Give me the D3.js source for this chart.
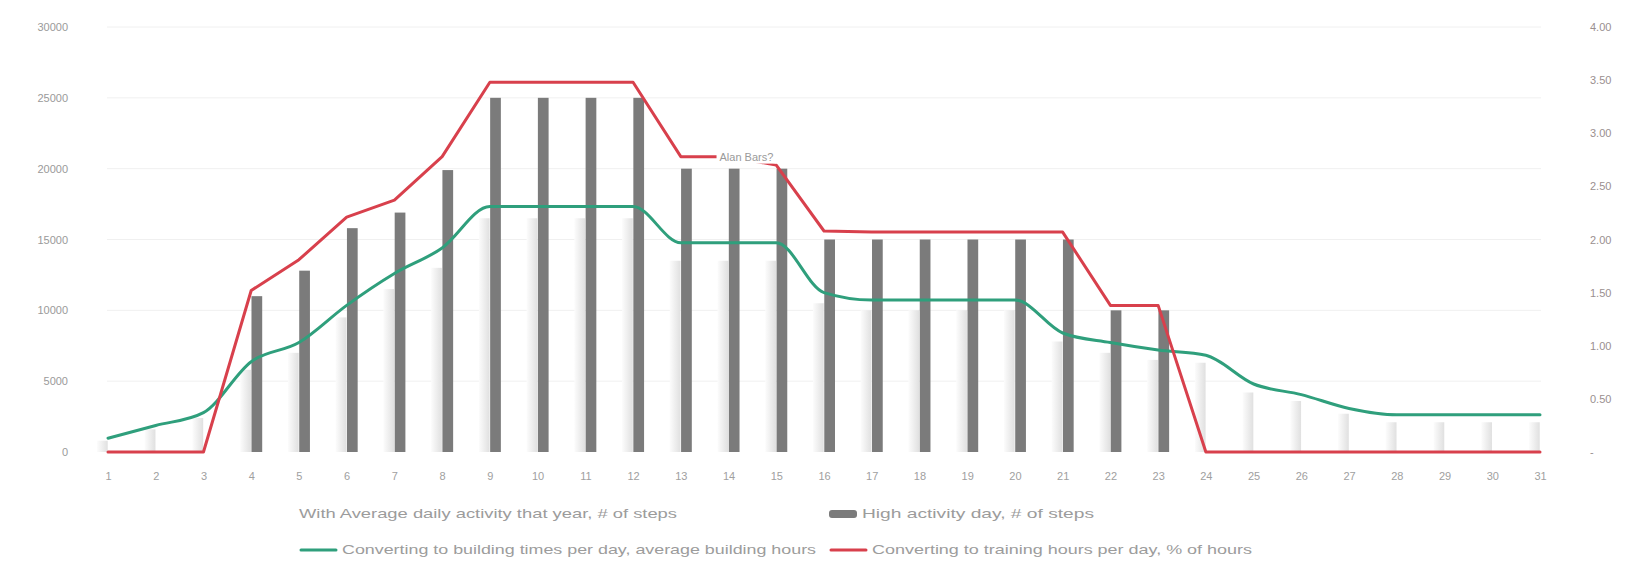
<!DOCTYPE html>
<html><head><meta charset="utf-8">
<script src="https://cdn.jsdelivr.net/npm/d3@7"></script>
<style>body{margin:0;background:#fff}svg{display:block}</style>
</head><body><svg id="c" width="1645" height="563"></svg>
<script>
const categories = [1,2,3,4,5,6,7,8,9,10,11,12,13,14,15,16,17,18,19,20,21,22,23,24,25,26,27,28,29,30,31];
const avgSteps  = [800,1600,2400,5800,7000,9500,11500,13000,16500,16500,16500,16500,13500,13500,13500,10500,10000,10000,10000,10000,7800,7000,6500,6300,4200,3600,2700,2100,2100,2100,2100];
const highSteps = [0,0,0,11000,12800,15800,16900,19900,25000,25000,25000,25000,20000,20000,20000,15000,15000,15000,15000,15000,15000,10000,10000,0,0,0,0,0,0,0,0];
const buildHours = [0.13,0.25,0.37,0.85,1.03,1.38,1.68,1.92,2.31,2.31,2.31,2.31,1.97,1.97,1.97,1.50,1.43,1.43,1.43,1.43,1.12,1.03,0.96,0.91,0.64,0.54,0.41,0.35,0.35,0.35,0.35];
const trainHours = [0,0,0,1.52,1.81,2.21,2.37,2.78,3.48,3.48,3.48,3.48,2.78,2.78,2.70,2.08,2.07,2.07,2.07,2.07,2.07,1.38,1.38,0,0,0,0,0,0,0,0];
const leftTicks = [0,5000,10000,15000,20000,25000,30000];
const rightTicks = [0,0.5,1,1.5,2,2.5,3,3.5,4];
const legendLabels = ["With Average daily activity that year, # of steps","High activity day, # of steps","Converting to building times per day, average building hours","Converting to training hours per day, % of hours"];
const noteText = "Alan Bars?";

const svg = d3.select("#c");
const font = "'Liberation Sans', Arial, sans-serif";
const x = d3.scalePoint().domain(categories).range([108,1540]);
const yL = d3.scaleLinear().domain([0,30000]).range([452,27]);
const yR = d3.scaleLinear().domain([0,4]).range([452,27]);
const sub = d3.scaleBand().domain(["avg","high"]).range([-11,11]).paddingInner(0.05);

const defs = svg.append("defs");
const g1 = defs.append("linearGradient").attr("id","lg").attr("x1","0").attr("x2","1").attr("y1","0").attr("y2","0");
g1.append("stop").attr("offset","0").attr("stop-color","#fcfcfc");
g1.append("stop").attr("offset","1").attr("stop-color","#e0e0e0");

// gridlines
svg.append("g").selectAll("line").data(leftTicks.slice(1)).join("line")
  .attr("x1",107).attr("x2",1541).attr("y1",d=>yL(d)).attr("y2",d=>yL(d))
  .attr("stroke","#f0f0f0").attr("stroke-width",1);

// left axis
const la = svg.append("g").attr("transform","translate(68,0)")
  .call(d3.axisLeft(yL).tickValues(leftTicks).tickFormat(d3.format("d")).tickSize(0).tickPadding(0));
la.select(".domain").remove();
la.selectAll("text").attr("font-family",font).attr("font-size",11).attr("fill","#9a9a9a");

// right axis
const ra = svg.append("g").attr("transform","translate(1590,0)")
  .call(d3.axisRight(yR).tickValues(rightTicks).tickFormat(d=>d===0?"-":d3.format(".2f")(d)).tickSize(0).tickPadding(0));
ra.select(".domain").remove();
ra.selectAll("text").attr("font-family",font).attr("font-size",11).attr("fill","#9a8f8f");

// x axis
const xa = svg.append("g").attr("transform","translate(0,472)")
  .call(d3.axisBottom(x).tickSize(0).tickPadding(0));
xa.select(".domain").remove();
xa.selectAll("text").attr("font-family",font).attr("font-size",11).attr("fill","#a0a0a0");

// bars
svg.append("g").selectAll("rect").data(categories).join("rect")
  .attr("x",(d,i)=>x(d)+sub("avg")).attr("width",sub.bandwidth())
  .attr("y",(d,i)=>yL(avgSteps[i])).attr("height",(d,i)=>yL(0)-yL(avgSteps[i]))
  .attr("fill","url(#lg)");
svg.append("g").selectAll("rect").data(categories).join("rect")
  .attr("x",(d,i)=>x(d)+sub("high")).attr("width",sub.bandwidth())
  .attr("y",(d,i)=>yL(highSteps[i])).attr("height",(d,i)=>yL(0)-yL(highSteps[i]))
  .attr("fill","#7b7b7b");

// lines
const lineG = d3.line().x((d,i)=>x(categories[i])).y(d=>yR(d)).curve(d3.curveMonotoneX);
const lineR = d3.line().x((d,i)=>x(categories[i])).y(d=>yR(d)).curve(d3.curveLinear);
svg.append("path").datum(buildHours).attr("d",lineG).attr("fill","none")
  .attr("stroke","#2f9f7c").attr("stroke-width",3).attr("stroke-linejoin","round").attr("stroke-linecap","round");
svg.append("path").datum(trainHours).attr("d",lineR).attr("fill","none")
  .attr("stroke","#d8404c").attr("stroke-width",3).attr("stroke-linejoin","round").attr("stroke-linecap","round");

// note label
const ng = svg.append("g");
const nbg = ng.append("rect").attr("fill","#fff");
const nt = ng.append("text").attr("x",x(14)-9).attr("y",yR(2.78)+4).attr("font-family",font).attr("font-size",11)
  .attr("fill","#9a9a9a").text(noteText);
const bb = nt.node().getBBox();
nbg.attr("x",bb.x-3).attr("y",bb.y-1).attr("width",bb.width+6).attr("height",bb.height+2);

// legend
const lg = svg.append("g").attr("font-family",font).attr("font-size",13).attr("fill","#9c9c9c");
lg.append("text").attr("x",299).attr("y",518).attr("textLength",378).attr("lengthAdjust","spacingAndGlyphs").text(legendLabels[0]);
lg.append("rect").attr("x",829).attr("y",510).attr("width",28).attr("height",8).attr("rx",3).attr("fill","#7b7b7b");
lg.append("text").attr("x",862).attr("y",518).attr("textLength",232).attr("lengthAdjust","spacingAndGlyphs").text(legendLabels[1]);
lg.append("line").attr("x1",301).attr("x2",336).attr("y1",550).attr("y2",550).attr("stroke","#2f9f7c").attr("stroke-width",3).attr("stroke-linecap","round");
lg.append("text").attr("x",342).attr("y",554).attr("textLength",474).attr("lengthAdjust","spacingAndGlyphs").text(legendLabels[2]);
lg.append("line").attr("x1",831).attr("x2",866).attr("y1",550).attr("y2",550).attr("stroke","#d8404c").attr("stroke-width",3).attr("stroke-linecap","round");
lg.append("text").attr("x",872).attr("y",554).attr("textLength",380).attr("lengthAdjust","spacingAndGlyphs").text(legendLabels[3]);
</script></body></html>
